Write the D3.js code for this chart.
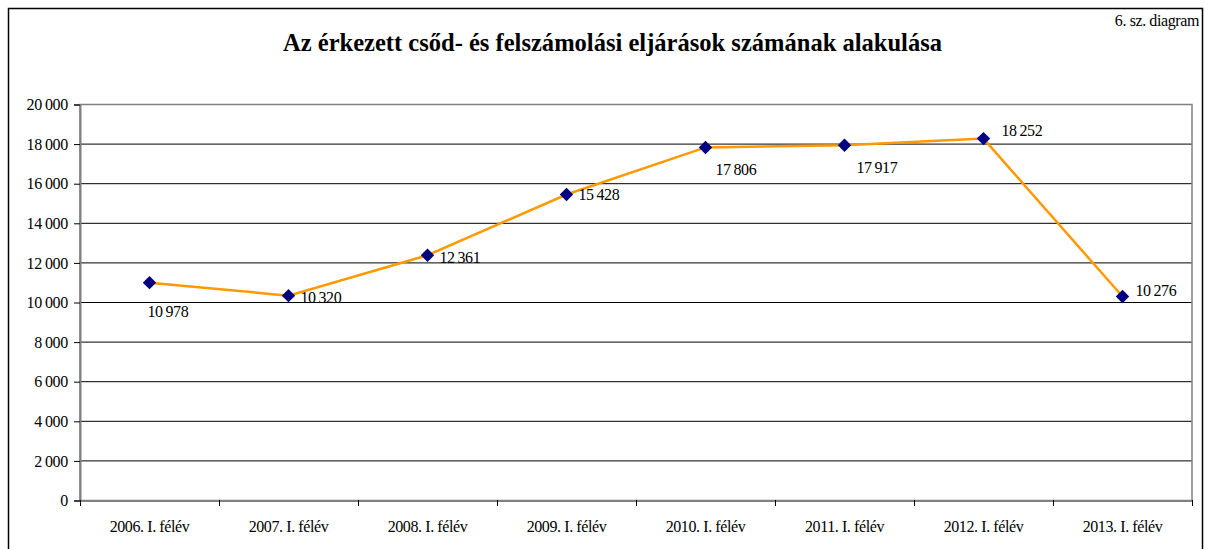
<!DOCTYPE html>
<html><head><meta charset="utf-8">
<script src="https://cdn.jsdelivr.net/npm/d3@7"></script>
<style>
body{margin:0;background:#fff;}
svg text{font-family:"Liberation Serif","DejaVu Serif",serif !important;fill:#000;}
</style></head>
<body><svg id="c" width="1205" height="549"></svg>
<script>
const categories = ["2006. I. félév","2007. I. félév","2008. I. félév","2009. I. félév","2010. I. félév","2011. I. félév","2012. I. félév","2013. I. félév"];
const values = [10978, 10320, 12361, 15428, 17806, 17917, 18252, 10276];
const yTicks = [0,2000,4000,6000,8000,10000,12000,14000,16000,18000,20000];
const title = "Az érkezett csőd- és felszámolási eljárások számának alakulása";
const note = "6. sz. diagram";
// label placement relative to marker: [dx, dy, anchor]
const labelPos = [[-2,34,"start"],[12,7,"start"],[12,8,"start"],[12,5,"start"],[10,28,"start"],[12,28,"start"],[18,-3,"start"],[13,-1,"start"]];

const SERIF = "Liberation Serif";
const svg = d3.select("#c");
const m = {left:80, right:1192, top:104, bottom:500};
const fmt = v => d3.formatLocale({thousands:"\u2009", grouping:[3], decimal:","}).format(",")(v);

svg.append("rect").attr("x",8.5).attr("y",8.5).attr("width",1194).attr("height",560)
  .attr("fill","none").attr("stroke","#000").attr("stroke-width",1.5);

const x = d3.scaleBand().domain(categories).range([m.left,m.right]);
const y = d3.scaleLinear().domain([0,20000]).range([m.bottom,m.top]);

// gridlines
svg.append("g").selectAll("line").data(yTicks.filter(d=>d>0)).join("line")
  .attr("x1",m.left).attr("x2",m.right).attr("y1",d=>y(d)+0.5).attr("y2",d=>y(d)+0.5)
  .attr("stroke","#000").attr("stroke-width",1);
// plot border
svg.append("rect").attr("x",m.left).attr("y",m.top+0.5).attr("width",m.right-m.left).attr("height",m.bottom-m.top)
  .attr("fill","none").attr("stroke","#808080").attr("stroke-width",1.5);

// y axis
const ya = svg.append("g").attr("transform",`translate(${m.left},0.5)`)
  .call(d3.axisLeft(y).tickValues(yTicks).tickFormat(fmt).tickSize(6).tickPadding(6))
  .attr("font-family",SERIF).attr("font-size",16);
ya.select(".domain").attr("stroke","#808080").attr("stroke-width",2);
ya.selectAll(".tick line").attr("stroke","#000");
ya.selectAll("text").attr("letter-spacing","-0.3px").attr("fill","#000");

// x axis
const xa = svg.append("g").attr("transform",`translate(0,${m.bottom+0.5})`)
  .call(d3.axisBottom(x).tickSize(0).tickPadding(20))
  .attr("font-family",SERIF).attr("font-size",16);
xa.select(".domain").attr("stroke","#808080").attr("stroke-width",2);
xa.selectAll("text").attr("letter-spacing","-0.4px").attr("fill","#000");
// category boundary ticks
const bounds = categories.map(c=>x(c)).concat([m.right]);
svg.append("g").selectAll("line").data(bounds).join("line")
  .attr("x1",d=>d+0.5).attr("x2",d=>d+0.5).attr("y1",m.bottom).attr("y2",m.bottom+6)
  .attr("stroke","#000");

// line
const cx = c => x(c)+x.bandwidth()/2;
const line = d3.line().x((d,i)=>cx(categories[i])).y(d=>y(d));
svg.append("path").datum(values).attr("d",line).attr("fill","none")
  .attr("stroke","#FF9900").attr("stroke-width",2.5);

// markers
svg.append("g").selectAll("path").data(values).join("path")
  .attr("d",d3.symbol(d3.symbolSquare,90))
  .attr("transform",(d,i)=>`translate(${cx(categories[i])},${y(d)}) rotate(45)`)
  .attr("fill","#000080");

// labels
svg.append("g").selectAll("text").data(values).join("text")
  .attr("x",(d,i)=>cx(categories[i])+labelPos[i][0])
  .attr("y",(d,i)=>y(d)+labelPos[i][1])
  .attr("text-anchor",(d,i)=>labelPos[i][2])
  .attr("font-family",SERIF).attr("font-size",16).attr("letter-spacing","-0.4px")
  .text(d=>fmt(d));

svg.append("text").attr("x",283).attr("y",51).attr("text-anchor","start")
  .attr("font-family",SERIF).attr("font-size",25).attr("font-weight","bold")
  .attr("textLength",659).attr("lengthAdjust","spacingAndGlyphs").text(title);
svg.append("text").attr("x",1199).attr("y",26).attr("text-anchor","end")
  .attr("font-family",SERIF).attr("font-size",16).attr("letter-spacing","-0.4px").text(note);
</script></body></html>
